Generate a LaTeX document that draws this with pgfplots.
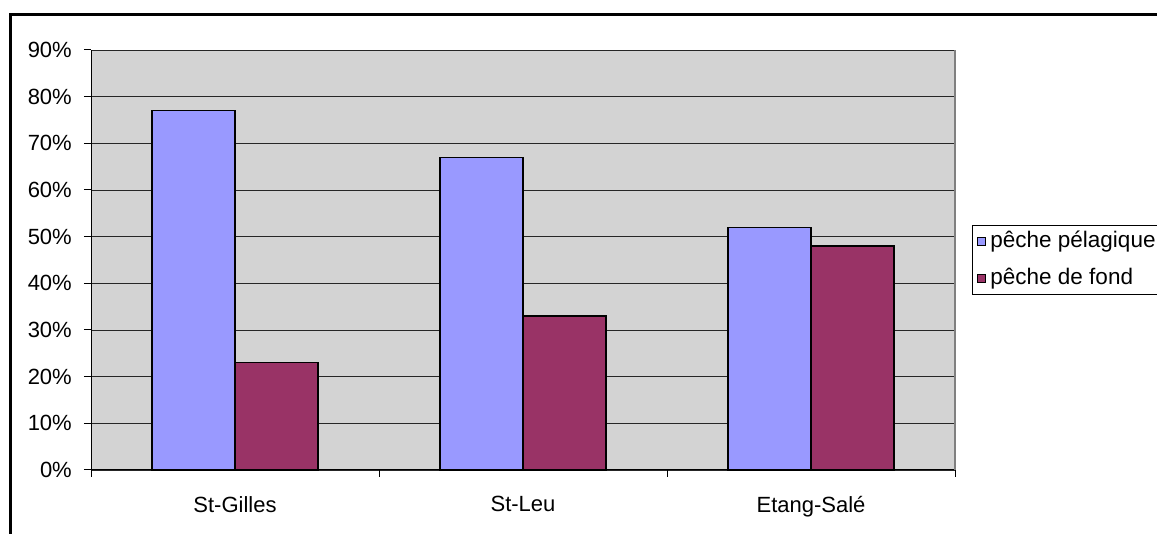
\documentclass[border=0pt]{standalone}
\usepackage{pgfplots}
\pgfplotsset{compat=1.18}
\usepackage{fontspec}
\setmainfont{Liberation Sans}
\definecolor{barblue}{HTML}{9999FF}
\definecolor{barmaroon}{HTML}{993366}
\definecolor{plotgray}{HTML}{D3D3D3}
\begin{document}
\begin{tikzpicture}[x=1bp,y=1bp]
\useasboundingbox (0,0) rectangle (1157,534);
\clip (0,0) rectangle (1157,534);
\fill[white] (0,0) rectangle (1157,534);
\draw[line width=2.2bp] (10.5,-10) -- (10.5,519.5) -- (1170,519.5);
\begin{axis}[
  at={(91bp,64bp)}, anchor=south west,
  scale only axis, width=864bp, height=420bp,
  xmin=-0.5, xmax=2.5, ymin=0, ymax=90,
  ybar=0pt, bar width=0.288,
  axis lines=left, axis line style={-, black, line width=1bp},
  axis background/.style={fill=plotgray},
  ymajorgrids, major grid style={black!85, line width=0.9bp},
  ytick={0,10,...,90},
  yticklabels={0\%,10\%,20\%,30\%,40\%,50\%,60\%,70\%,80\%,90\%},
  xtick={-0.5,0.5,1.5,2.5},
  x tick label as interval,
  xticklabels={St-Gilles,St-Leu,Etang-Salé},
  tick align=outside, major tick length=7bp,
  tick style={black, line width=1bp},
  font=\fontsize{22bp}{26bp}\selectfont,
  yticklabel style={inner sep=0pt, anchor=east, xshift=-12bp},
  xticklabel style={inner sep=0pt, anchor=north, yshift=-19bp},
  clip=false,
  legend image code/.code={\draw[#1, line width=0.9bp] (0bp,-4bp) rectangle (8bp,4bp);},
  legend cell align=left,
  legend style={at={(rel axis cs:1.0197,0.583)}, anchor=north west,
    draw=black, line width=1bp, fill=white,
    font=\fontsize{22.5bp}{27bp}\selectfont,
    inner xsep=4bp, inner ysep=5bp,
    nodes={inner sep=0pt, text height=17bp, text depth=5bp},
    row sep=15bp, column sep=5bp},
]
\addplot[fill=barblue, draw=black, line width=1.5bp] coordinates {(0,77) (1,67) (2,52)};
\addlegendentry{pêche pélagique}
\addplot[fill=barmaroon, draw=black, line width=1.5bp] coordinates {(0,23) (1,33) (2,48)};
\addlegendentry{pêche de fond}
\draw[gray, line width=1.2bp] (rel axis cs:1,0) -- (rel axis cs:1,1);
\end{axis}
\end{tikzpicture}
\end{document}
